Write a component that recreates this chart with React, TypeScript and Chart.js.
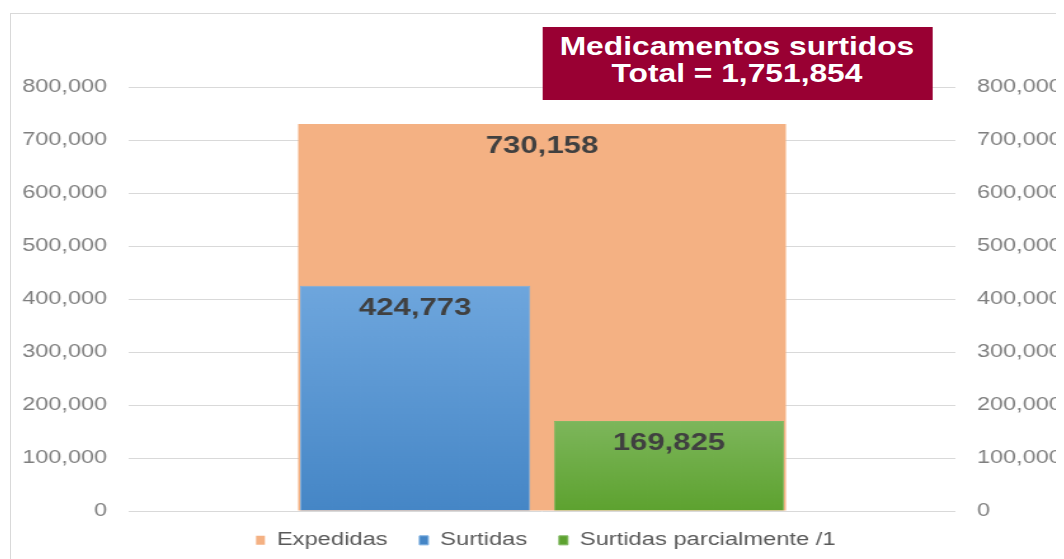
import React, { useEffect, useRef } from 'react';
import { Chart, registerables } from 'chart.js';

Chart.register(...registerables);

const categories = [''];
const seriesLabels = ['Expedidas', 'Surtidas', 'Surtidas parcialmente /1'];
const expedidas = [730158];
const surtidas = [424773];
const parciales = [169825];
const yTicks = [0, 100000, 200000, 300000, 400000, 500000, 600000, 700000, 800000];
const titleLines = ['Medicamentos surtidos', 'Total = 1,751,854'];

const SX = 1.27;
const W = 832;
const H = 551;
const FONT = '"Liberation Sans", Arial, Helvetica, sans-serif';
const LEGEND_SHIFT_X = 7.5;
const LEGEND_SHIFT_Y = -5;

const fmt = (v: number) => Number(v).toLocaleString('en-US');

const grad = (top: string, bottom: string, solid: string) => (ctx: any) => {
  const chart = ctx.chart;
  const area = chart.chartArea;
  if (!area || ctx.type !== 'data') return solid;
  const yScale = chart.scales.y;
  const y0 = yScale.getPixelForValue(ctx.raw as number);
  const g = chart.ctx.createLinearGradient(0, y0, 0, area.bottom);
  g.addColorStop(0, top);
  g.addColorStop(1, bottom);
  return g;
};

const valueLabels = {
  id: 'valueLabels',
  afterDatasetsDraw(chart: any) {
    const ctx = chart.ctx;
    ctx.save();
    ctx.font = `bold 24.5px ${FONT}`;
    ctx.fillStyle = '#404040';
    ctx.textAlign = 'center';
    ctx.textBaseline = 'alphabetic';
    chart.data.datasets.forEach((ds: any, i: number) => {
      const meta = chart.getDatasetMeta(i);
      meta.data.forEach((bar: any, j: number) => {
        ctx.fillText(fmt(ds.data[j]), bar.x, bar.y + 29);
      });
    });
    ctx.restore();
  },
};

const legendTweak = {
  id: 'legendTweak',
  beforeInit(chart: any) {
    const lg = chart.legend;
    if (!lg) return;
    const fit = lg.fit;
    lg.fit = function (this: any) {
      fit.call(this);
      this.height = 48;
    };
    const draw = lg.draw;
    lg.draw = function (this: any, ...args: any[]) {
      const c = this.ctx;
      c.save();
      c.translate(LEGEND_SHIFT_X, LEGEND_SHIFT_Y);
      draw.apply(this, args);
      c.restore();
    };
  },
};

export default function App() {
  const ref = useRef<HTMLCanvasElement>(null);

  useEffect(() => {
    if (!ref.current) return;
    Chart.defaults.font.family = FONT;
    const chart = new Chart(ref.current, {
      type: 'bar',
      data: {
        labels: categories,
        datasets: [
          {
            label: seriesLabels[0],
            data: expedidas,
            xAxisID: 'x2',
            yAxisID: 'y',
            grouped: false,
            order: 1,
            backgroundColor: '#F4B183',
            borderWidth: 0,
            barPercentage: 0.59,
            categoryPercentage: 1,
          } as any,
          {
            label: seriesLabels[1],
            data: surtidas,
            xAxisID: 'x',
            yAxisID: 'y',
            order: 0,
            backgroundColor: grad('#6EA6DD', '#4586C6', '#4A8CCB'),
            borderColor: '#7AAEE0',
            borderWidth: 1,
            barPercentage: 0.907,
            categoryPercentage: 1.228,
          } as any,
          {
            label: seriesLabels[2],
            data: parciales,
            xAxisID: 'x',
            yAxisID: 'y',
            order: 0,
            backgroundColor: grad('#7DB65B', '#5DA22F', '#68A83A'),
            borderColor: '#80B862',
            borderWidth: 1,
            barPercentage: 0.907,
            categoryPercentage: 1.228,
          } as any,
        ],
      },
      options: {
        responsive: false,
        animation: false,
        layout: { padding: { top: 79, left: 0, right: 0, bottom: 0 } },
        scales: {
          x: { display: false, offset: true },
          x2: { display: false, offset: true, labels: categories } as any,
          y: {
            position: 'left',
            min: 0,
            max: 800000,
            afterBuildTicks: (s: any) => {
              s.ticks = yTicks.map((v) => ({ value: v }));
            },
            afterFit: (s: any) => {
              s.width = 95;
            },
            grid: { color: '#D9D9D9', lineWidth: 1, drawTicks: false },
            border: { display: false },
            ticks: {
              padding: 17,
              color: '#7F7F7F',
              font: { size: 18.5, family: FONT },
              callback: (v: any) => fmt(v),
            },
          },
          y2: {
            position: 'right',
            min: 0,
            max: 800000,
            afterBuildTicks: (s: any) => {
              s.ticks = yTicks.map((v) => ({ value: v }));
            },
            afterFit: (s: any) => {
              s.width = 86;
            },
            grid: { display: false, drawTicks: false },
            border: { display: false },
            ticks: {
              padding: 17,
              color: '#7F7F7F',
              font: { size: 18.5, family: FONT },
              callback: (v: any) => fmt(v),
            },
          },
        },
        plugins: {
          title: { display: false },
          tooltip: { enabled: false },
          legend: {
            display: true,
            position: 'bottom',
            labels: {
              boxWidth: 7,
              boxHeight: 9,
              padding: 25,
              color: '#595959',
              font: { size: 18.7, family: FONT },
              sort: (a: any, b: any) => a.datasetIndex - b.datasetIndex,
            },
          },
        },
      },
      plugins: [valueLabels, legendTweak],
    });
    return () => chart.destroy();
  }, []);

  return (
    <div style={{ position: 'relative', width: 1056, height: 551, overflow: 'hidden' }}>
      <div
        style={{
          position: 'absolute',
          left: 2,
          top: 5,
          width: 1100,
          height: 600,
          border: '1px solid #D9D9D9',
          boxSizing: 'border-box',
        }}
      />
      <div
        style={{
          position: 'absolute',
          left: 0,
          top: 0,
          width: W,
          height: H,
          transform: `scaleX(${SX})`,
          transformOrigin: '0 0',
        }}
      >
        <canvas ref={ref} width={W} height={H} style={{ display: 'block', width: W, height: H }} />
        <div
          style={{
            position: 'absolute',
            left: 420.5,
            top: 19,
            width: 307,
            height: 73,
            background: '#990033',
            color: '#FFFFFF',
            fontFamily: FONT,
            fontWeight: 'bold',
            fontSize: 25,
            lineHeight: '26.6px',
            textAlign: 'center',
            paddingTop: 6.4,
            boxSizing: 'border-box',
            whiteSpace: 'nowrap',
          }}
        >
          {titleLines.map((l) => (
            <div key={l}>{l}</div>
          ))}
        </div>
      </div>
    </div>
  );
}
